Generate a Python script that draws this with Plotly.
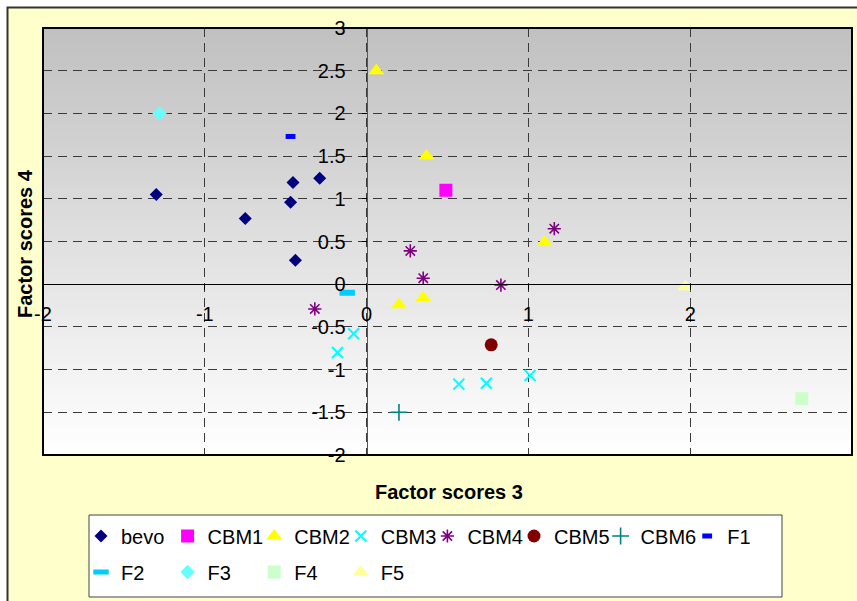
import plotly.graph_objects as go

# ---------------- data ----------------
x_tick_vals = [-2, -1, 0, 1, 2, 3]
x_tick_text = ["-2", "-1", "0", "1", "2", "3"]
y_tick_vals = [-2, -1.5, -1, -0.5, 0, 0.5, 1, 1.5, 2, 2.5, 3]
y_tick_text = ["-2", "-1.5", "-1", "-0.5", "0", "0.5", "1", "1.5", "2", "2.5", "3"]

series_names = ["bevo", "CBM1", "CBM2", "CBM3", "CBM4", "CBM5", "CBM6",
                "F1", "F2", "F3", "F4", "F5"]

bevo_x = [-1.30, -0.75, -0.47, -0.455, -0.29, -0.44]
bevo_y = [1.05, 0.77, 0.96, 1.19, 1.24, 0.28]
cbm1_x = [0.49]
cbm1_y = [1.10]
cbm2_x = [0.06, 0.37, 1.10, 0.20, 0.35]
cbm2_y = [2.50, 1.50, 0.49, -0.24, -0.16]
cbm3_x = [-0.08, -0.18, 0.57, 0.74, 1.01]
cbm3_y = [-0.58, -0.80, -1.17, -1.16, -1.07]
cbm4_x = [0.27, 0.35, 1.16, 0.83, -0.32]
cbm4_y = [0.39, 0.07, 0.65, -0.01, -0.29]
cbm5_x = [0.77]
cbm5_y = [-0.71]
cbm6_x = [0.20]
cbm6_y = [-1.50]
f1_x = [-0.47]
f1_y = [1.73]
f2_x = [-0.12]
f2_y = [-0.10]
f3_x = [-1.28]
f3_y = [2.00]
f4_x = [2.69]
f4_y = [-1.34]
f5_x = [1.97]
f5_y = [-0.03]

series_x = [bevo_x, cbm1_x, cbm2_x, cbm3_x, cbm4_x, cbm5_x, cbm6_x,
            f1_x, f2_x, f3_x, f4_x, f5_x]
series_y = [bevo_y, cbm1_y, cbm2_y, cbm3_y, cbm4_y, cbm5_y, cbm6_y,
            f1_y, f2_y, f3_y, f4_y, f5_y]

# ---------------- styles ----------------
styles = [
    dict(symbol="diamond", size=10, color="#000080"),
    dict(symbol="square", size=13, color="#FF00FF"),
    dict(symbol="triangle-up", size=14, color="#FFFF00"),
    dict(symbol="x-thin", size=11, color="#00FFFF", lw=2),
    dict(symbol="asterisk", size=11, color="#800080", lw=1.6),
    dict(symbol="circle", size=13, color="#800000"),
    dict(symbol="cross-thin", size=12, color="#008080", lw=1.6),
    dict(symbol="line-ew", size=7, color="#0000FF", lw=5),
    dict(symbol="line-ew", size=11, color="#00CCFF", lw=6),
    dict(symbol="diamond", size=11, color="#66FFFF"),
    dict(symbol="square", size=13, color="#CCFFCC"),
    dict(symbol="triangle-up", size=14, color="#FFFF99"),
]

W, H = 857, 601
PL, PR, PT, PB = 43, 852, 28, 455  # plot area in px


def fx(px):
    return (px - PL) / (PR - PL)


def fy(py):
    return (PB - py) / (PB - PT)


FONT = "Liberation Sans, Arial, sans-serif"

fig = go.Figure()

# legend placement: uniform columns, two rows (px of symbol centres)
col0, colw = 103, 86.6
rows = [536, 572]
legend_layouts = {}
for i, (name, xs, ys, st) in enumerate(zip(series_names, series_x, series_y, styles)):
    if i < 8:
        row, col = 0, i
    else:
        row, col = 1, i - 8
    lname = "legend" if i == 0 else f"legend{i + 1}"
    marker = dict(symbol=st["symbol"], size=st["size"], color=st["color"])
    if "lw" in st:
        marker["line"] = dict(color=st["color"], width=st["lw"])
    else:
        marker["line"] = dict(width=0)
    fig.add_trace(go.Scatter(x=xs, y=ys, mode="markers", name=name,
                             marker=marker, legend=lname, cliponaxis=False))
    mx = col0 + colw * col
    legend_layouts[lname] = dict(
        x=fx(mx - 22), y=fy(rows[row]), xanchor="left", yanchor="middle",
        bgcolor="rgba(0,0,0,0)", borderwidth=0,
        font=dict(family=FONT, size=20, color="black"),
        orientation="h",
    )

shapes = []
# outer yellow chart area frame
shapes.append(dict(type="rect", xref="paper", yref="paper",
                   x0=fx(7.5), y0=fy(7.5), x1=fx(880), y1=fy(640),
                   fillcolor="#FFFFCC", line=dict(color="#333333", width=2),
                   layer="below"))
# gradient plot background
N = 86
for k in range(N):
    t0 = k / N
    t1 = (k + 1) / N
    tm = (t0 + t1) / 2  # 0 = top, 1 = bottom
    v = int(round(192 + (255 - 192) * tm))
    shapes.append(dict(type="rect", xref="paper", yref="paper",
                       x0=0, x1=1, y0=1 - t1, y1=1 - t0 + 0.002,
                       fillcolor=f"rgb({v},{v},{v})", line=dict(width=0),
                       layer="below"))
# legend box
shapes.append(dict(type="rect", xref="paper", yref="paper",
                   x0=fx(89), x1=fx(782), y0=fy(597), y1=fy(515),
                   fillcolor="white", line=dict(color="#444444", width=1),
                   layer="below"))
# plot border
shapes.append(dict(type="rect", xref="paper", yref="paper",
                   x0=0, x1=1, y0=0, y1=1,
                   fillcolor="rgba(0,0,0,0)", line=dict(color="black", width=2),
                   layer="above"))

annotations = [
    dict(text="<b>Factor scores 3</b>", xref="paper", yref="paper",
         x=fx(449), y=fy(492), xanchor="center", yanchor="middle",
         showarrow=False, font=dict(family=FONT, size=20, color="black")),
    dict(text="<b>Factor scores 4</b>", xref="paper", yref="paper",
         x=fx(25), y=fy(244), xanchor="center", yanchor="middle",
         textangle=-90, showarrow=False,
         font=dict(family=FONT, size=20, color="black")),
]

axis_common = dict(
    range=[-2, 3], anchor="free", position=0.4,
    showline=True, linewidth=1,
    ticks="outside", ticklen=5, tickcolor="black",
    showgrid=True, gridcolor="#3a3a3a", gridwidth=1, griddash="9px,6px",
    zeroline=False, tickfont=dict(family=FONT, size=20, color="black"),
    fixedrange=True,
)

fig.update_layout(
    width=W, height=H, autosize=False,
    margin=dict(l=PL, r=W - PR, t=PT, b=H - PB, pad=0),
    paper_bgcolor="white", plot_bgcolor="white",
    font=dict(family=FONT, size=20, color="black"),
    xaxis=dict(axis_common, tickvals=x_tick_vals, ticktext=x_tick_text,
               linecolor="black", ticklabelstandoff=7),
    yaxis=dict(axis_common, tickvals=y_tick_vals, ticktext=y_tick_text,
               linecolor="#555555", ticklabelstandoff=12),
    shapes=shapes,
    annotations=annotations,
    showlegend=True,
    hovermode=False,
    **legend_layouts,
)

fig.write_html("out.html",
               config={"displayModeBar": False},
               post_script="document.body.style.margin='0';")
